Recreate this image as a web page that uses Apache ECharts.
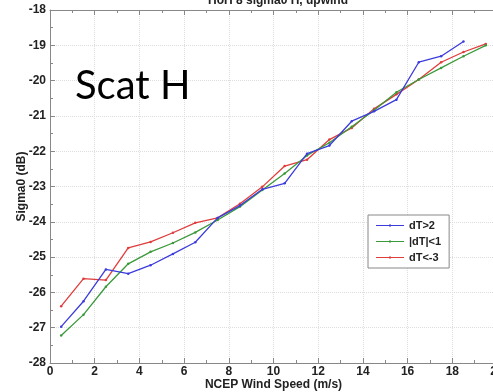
<!DOCTYPE html>
<html>
<head>
<meta charset="utf-8">
<script src="https://cdn.jsdelivr.net/npm/echarts@6/dist/echarts.min.js"></script>
<style>html,body{margin:0;padding:0;background:#fff}#c{width:493px;height:392px}</style>
</head>
<body>
<div id="c"></div>
<script>
const windSpeed = [0.5,1.5,2.5,3.5,4.5,5.5,6.5,7.5,8.5,9.5,10.5,11.5,12.5,13.5,14.5,15.5,16.5,17.5,18.5,19.5];
const dTgt2 = [-26.97,-26.25,-25.35,-25.47,-25.23,-24.91,-24.58,-23.89,-23.54,-23.08,-22.91,-22.07,-21.84,-21.15,-20.87,-20.54,-19.48,-19.31,-18.89,null];
const dTabs1 = [-27.22,-26.63,-25.84,-25.19,-24.85,-24.60,-24.30,-23.95,-23.57,-23.10,-22.63,-22.12,-21.76,-21.31,-20.84,-20.33,-19.97,-19.64,-19.31,-19.00];
const dTlt3 = [-26.39,-25.61,-25.65,-24.74,-24.57,-24.31,-24.03,-23.89,-23.49,-23.01,-22.42,-22.24,-21.67,-21.34,-20.80,-20.39,-19.97,-19.48,-19.19,-18.96];
const xTicks = [0,2,4,6,8,10,12,14,16,18,20];
const yTicks = [-28,-27,-26,-25,-24,-23,-22,-21,-20,-19,-18];
const seriesNames = ['dT>2','|dT|<1','dT<-3'];
const seriesColors = ['#3c3cdc','#3a9a3a','#e03c3c'];

const toPairs = arr => windSpeed.map((x,i)=>[x,arr[i]]).filter(p=>p[1]!==null);
const lab = {fontFamily:'Liberation Sans, Arial', fontWeight:'bold', fontSize:12, color:'#222'};
const chart = echarts.init(document.getElementById('c'));
chart.setOption({
  animation:false,
  title:{text:'HoH 8 sigma0 H, upwind', left:273, textAlign:'center', top:-10,
    textStyle:{fontFamily:'Liberation Sans, Arial', fontWeight:'bold', fontSize:12, color:'#222'}},
  grid:{left:50, top:10, right:-4, bottom:29, outerBoundsMode:'none', containLabel:false},
  legend:{orient:'vertical', left:368, top:215, padding:[5,8,5,8], itemGap:5,
    itemWidth:28, itemHeight:8, borderColor:'#888', borderWidth:1, backgroundColor:'#fff',
    icon:'path://M0,3.5 H28 V4.5 H0 Z M13,3 H15 V5 H13 Z',
    textStyle:{fontFamily:'Liberation Sans, Arial', fontWeight:'bold', fontSize:11, color:'#222'},
    data:seriesNames},
  graphic:[{type:'text', left:75, top:66, z:10, style:{text:'Scat H', font:'40px Lato, "Open Sans", sans-serif', fill:'#000'}}],
  xAxis:[{type:'value', min:0, max:20, interval:2,
    name:'NCEP Wind Speed (m/s)', nameLocation:'middle', nameGap:16, nameMoveOverlap:false,
    nameTextStyle:{fontFamily:'Liberation Sans, Arial', fontWeight:'bold', fontSize:12, color:'#222'},
    axisLine:{lineStyle:{color:'#888'}}, axisTick:{inside:true, length:5, lineStyle:{color:'#888'}},
    minorTick:{show:true, splitNumber:2, length:3, lineStyle:{color:'#888'}},
    axisLabel:Object.assign({margin:3, formatter:v=>xTicks.includes(v)?String(v):''}, lab),
    splitLine:{show:true, lineStyle:{color:'#ddd', type:'dotted'}}},
   {type:'value', position:'top', min:0, max:20, interval:2,
    axisLine:{show:true, lineStyle:{color:'#888'}}, axisTick:{inside:true, length:5, lineStyle:{color:'#888'}},
    minorTick:{show:true, splitNumber:2, length:3, lineStyle:{color:'#888'}},
    axisLabel:{show:false}, splitLine:{show:false}}],
  yAxis:{type:'value', min:-28, max:-18, interval:1,
    name:'Sigma0 (dB)', nameLocation:'middle', nameGap:22, nameMoveOverlap:false,
    nameTextStyle:{fontFamily:'Liberation Sans, Arial', fontWeight:'bold', fontSize:12, color:'#222'},
    axisLine:{show:true, lineStyle:{color:'#888'}}, axisTick:{show:true, inside:true, length:5, lineStyle:{color:'#888'}},
    minorTick:{show:true, splitNumber:2, length:3, lineStyle:{color:'#888'}},
    axisLabel:Object.assign({margin:4, formatter:v=>yTicks.includes(v)?String(v):''}, lab),
    splitLine:{show:true, lineStyle:{color:'#ddd', type:'dotted'}}},
  series:[dTgt2,dTabs1,dTlt3].map((d,i)=>({
    name:seriesNames[i], type:'line', data:toPairs(d), symbol:'circle', symbolSize:2.5,
    lineStyle:{width:1.3, color:seriesColors[i]}, itemStyle:{color:seriesColors[i]}, z:3-i+2
  }))
});
</script>
</body>
</html>
